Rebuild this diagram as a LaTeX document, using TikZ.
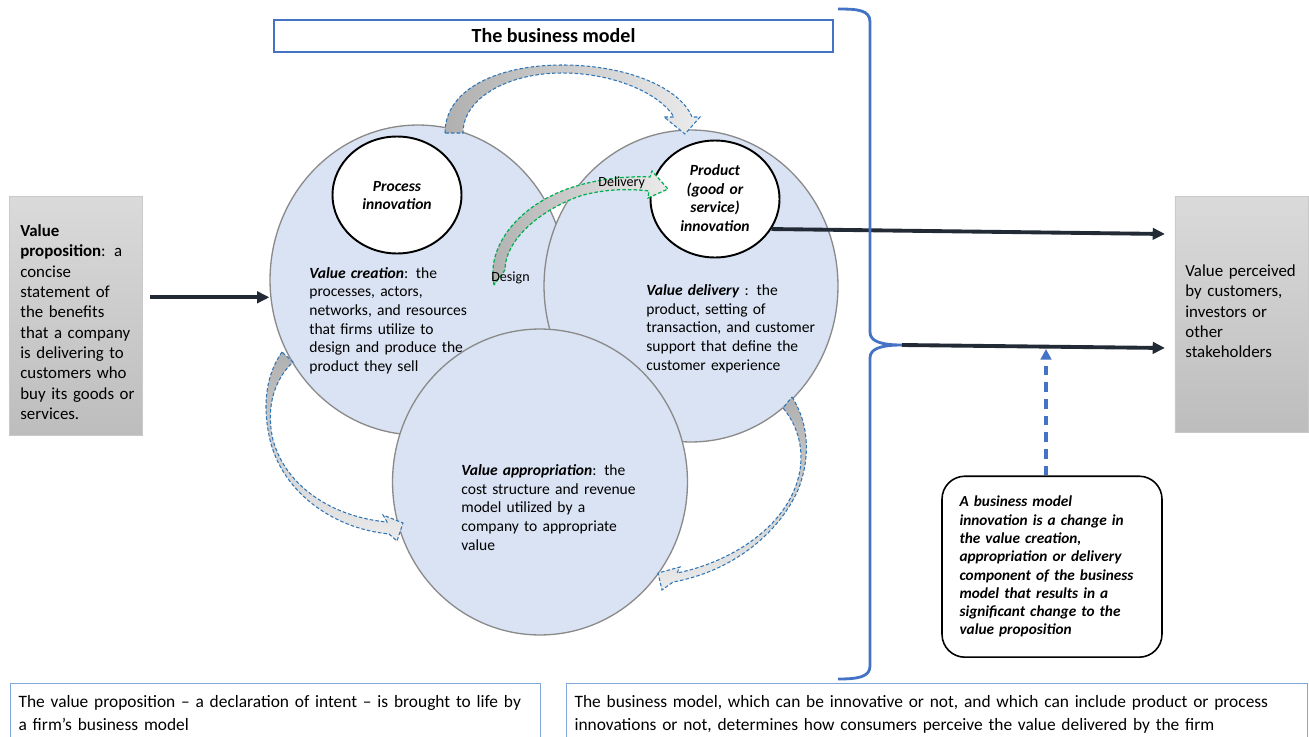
\documentclass[tikz,border=0pt]{standalone}
\usepackage{fontspec}
\setmainfont{Carlito}
\usepackage{tikz}
\usepackage{xcolor}
\usetikzlibrary{arrows.meta,shapes.geometric}

\definecolor{ovalfill}{HTML}{DAE3F3}
\definecolor{ovalline}{HTML}{8A8A8A}
\definecolor{arrnavy}{HTML}{222A35}
\definecolor{bmblue}{HTML}{4472C4}
\definecolor{dashblue}{HTML}{2E75B6}
\definecolor{dashgreen}{HTML}{00B050}
\definecolor{notebl}{HTML}{7FA7D9}
\definecolor{boxtop}{HTML}{DADADA}
\definecolor{boxbot}{HTML}{BDBDBD}
\definecolor{boxedge}{HTML}{C9C9C9}
\definecolor{tailgrey}{HTML}{B0B0B0}
\definecolor{headgrey}{HTML}{EBEBEB}

\begin{document}
\begin{tikzpicture}[x=0.02cm,y=-0.02cm,
    bigoval/.style={ellipse,draw=ovalline,line width=0.75pt,fill=ovalfill,inner sep=0pt},
    innovoval/.style={ellipse,draw=black,line width=1.1pt,fill=white,inner sep=0pt,
        minimum width=2.58cm,minimum height=2.34cm},
    ovaltext/.style={anchor=base west,inner sep=0pt,align=left,
        font=\fontsize{8.85}{10.6}\selectfont},
    innovtext/.style={anchor=base,inner sep=0pt,align=center,text width=2.2cm,
        font=\bfseries\itshape\fontsize{8.85}{10.6}\selectfont},
    greybox/.style={draw=boxedge,line width=0.5pt,top color=boxtop,bottom color=boxbot,
        minimum width=2.67cm},
    boxtext/.style={anchor=base west,inner sep=0pt,align=left,text width=2.45cm,
        font=\fontsize{9.6}{11.55}\selectfont},
    darr/.style={draw=arrnavy,line width=2.2pt,-{Triangle[length=7pt,width=6.5pt]}},
    bluedash/.style={draw=dashblue,line width=0.6pt,dash pattern=on 2pt off 1.2pt},
    greendash/.style={draw=dashgreen,line width=0.7pt,dash pattern=on 2pt off 1.2pt},
    notebox/.style={anchor=north west,draw=notebl,line width=0.7pt,align=left,
        inner xsep=0.16cm,inner ysep=0.23cm,font=\fontsize{9.9}{13}\selectfont},
    smalllbl/.style={anchor=base west,inner sep=0pt,font=\fontsize{8}{9.6}\selectfont}
]
\useasboundingbox (0,0) rectangle (1309,737);

% Title
\node[draw=bmblue,line width=1.1pt,minimum width=11.18cm,minimum height=0.64cm,
    font=\bfseries\fontsize{11.4}{13}\selectfont] (title) at (553.5,36) {The business model};

% Ovals
\node[bigoval,minimum width=5.92cm,minimum height=6.2cm] (vc) at (418,280) {};
\node[bigoval,minimum width=5.88cm,minimum height=6.24cm] (vd) at (691,286) {};
\node[bigoval,minimum width=5.9cm,minimum height=6.12cm] (va) at (540,482) {};
\node[innovoval] (procinn) at (397,195) {};
\node[innovoval] (prodinn) at (715,199) {};

% Curved block arrows
\shadedraw[bluedash,left color=tailgrey,right color=headgrey]
    (445,133) .. controls (445,88) and (500,65) .. (562,65)
    .. controls (628,65) and (680,88) .. (692,117)
    -- (700,117) -- (685,134) -- (664,117) -- (674,117)
    .. controls (660,94) and (615,73) .. (562,73)
    .. controls (508,73) and (463,98) .. (463,133) -- cycle;
\shadedraw[bluedash,top color=tailgrey,bottom color=headgrey]
    (282,352) .. controls (266,375) and (262,405) .. (270,440)
    .. controls (282,490) and (330,528) .. (389,534)
    -- (397,541) -- (403,523) -- (383,515) -- (387,522)
    .. controls (333,517) and (286,487) .. (273,440)
    .. controls (265,405) and (276,378) .. (293,362) -- cycle;
\shadedraw[bluedash,top color=tailgrey,bottom color=headgrey]
    (792,397) .. controls (810,425) and (810,460) .. (798,490)
    .. controls (778,535) and (730,572) .. (673,582)
    -- (662,590) -- (658,573) -- (680,567) -- (677,573)
    .. controls (727,563) and (778,532) .. (795,488)
    .. controls (807,458) and (800,428) .. (783,408) -- cycle;
\shadedraw[greendash,left color=tailgrey,right color=headgrey]
    (494,285) .. controls (486,245) and (520,205) .. (570,188)
    .. controls (600,178) and (630,176) .. (650,177)
    -- (652,171) -- (668,189) -- (648,198) -- (649,191)
    .. controls (625,188) and (600,190) .. (580,196)
    .. controls (540,210) and (505,240) .. (505,270) -- cycle;

% Oval texts
\node[innovtext] (proctxt) at (397,191) {Process\\ innovation};
\node[innovtext] (prodtxt) at (715,175.7) {Product\\ (good or\\ service)\\ innovation};
\node[ovaltext,text width=3.4cm] (vctxt) at (309,278.3)
    {\textbf{\textit{Value creation}}: the\\ processes, actors,\\ networks, and resources\\ that firms utilize to\\ design and produce the\\ product they sell};
\node[ovaltext,text width=3.6cm] (vdtxt) at (646,295.7)
    {\textbf{\textit{Value delivery}} : the\\ product, setting of\\ transaction, and customer\\ support that define the\\ customer experience};
\node[ovaltext,text width=3.6cm] (vatxt) at (461,475.7)
    {\textbf{\textit{Value appropriation}}: the\\ cost structure and revenue\\ model utilized by a\\ company to appropriate\\ value};
\node[smalllbl] (dlv) at (598,186) {Delivery};
\node[smalllbl] (dsg) at (491,281.7) {Design};

% Value proposition
\node[greybox,minimum height=4.78cm] (vp) at (76,316.2) {};
\node[boxtext] (vptxt) at (20,236.7) {\textbf{Value}\\ \textbf{proposition}: a\\ concise\\ statement of\\ the benefits\\ that a company\\ is delivering to\\ customers who\\ buy its goods or\\ services.};
\coordinate (vpout) at (150,297.3);
\draw[darr] (vpout) -- (vc.west |- vpout);

% Value perceived
\node[greybox,minimum height=4.71cm] (vpc) at (1241.7,314.4) {};
\node[boxtext] (vpctxt) at (1185,276.7) {Value perceived\\ by customers,\\ investors or\\ other\\ stakeholders};
\coordinate (vpcin1) at (1165,234);
\coordinate (vpcin2) at (1165,348);
\draw[darr] (prodinn.-28) -- (vpcin1);

% Brace
\draw[bmblue,line width=1.6pt] (838,9) .. controls (858,9) and (870,10) .. (870,22)
    -- (870,332) .. controls (870,341) and (880,345) .. (902,345)
    .. controls (880,345) and (870,349) .. (870,358)
    -- (870,666) .. controls (870,677) and (858,679) .. (838,679);
\coordinate (bracetip) at (902,345);
\draw[darr] (bracetip) -- (vpcin2);

% Business model innovation
\node[draw=black,line width=0.9pt,rounded corners=13pt,minimum width=4.4cm,minimum height=3.62cm,
    text width=3.7cm,inner xsep=0.35cm,align=left,
    font=\bfseries\itshape\fontsize{8.7}{10.4}\selectfont] (bmi) at (1052,566.7)
    {A business model\\ innovation is a change in\\ the value creation,\\ appropriation or delivery\\ component of the business\\ model that results in a\\ significant change to the\\ value proposition};
\coordinate (bmiup) at (1046,349);
\draw[bmblue,line width=2pt,dash pattern=on 5.5pt off 4pt,-{Triangle[length=6pt,width=6pt]}]
    (bmi.north -| bmiup) -- (bmiup);

% Notes
\node[notebox,text width=10.28cm] (notel) at (10,683)
    {The value proposition – a declaration of intent – is brought to life by\\ a firm’s business model};
\node[notebox,text width=14.5cm] (noter) at (566,683)
    {The business model, which can be innovative or not, and which can include product or process\\ innovations or not, determines how consumers perceive the value delivered by the firm};
\end{tikzpicture}
\end{document}
